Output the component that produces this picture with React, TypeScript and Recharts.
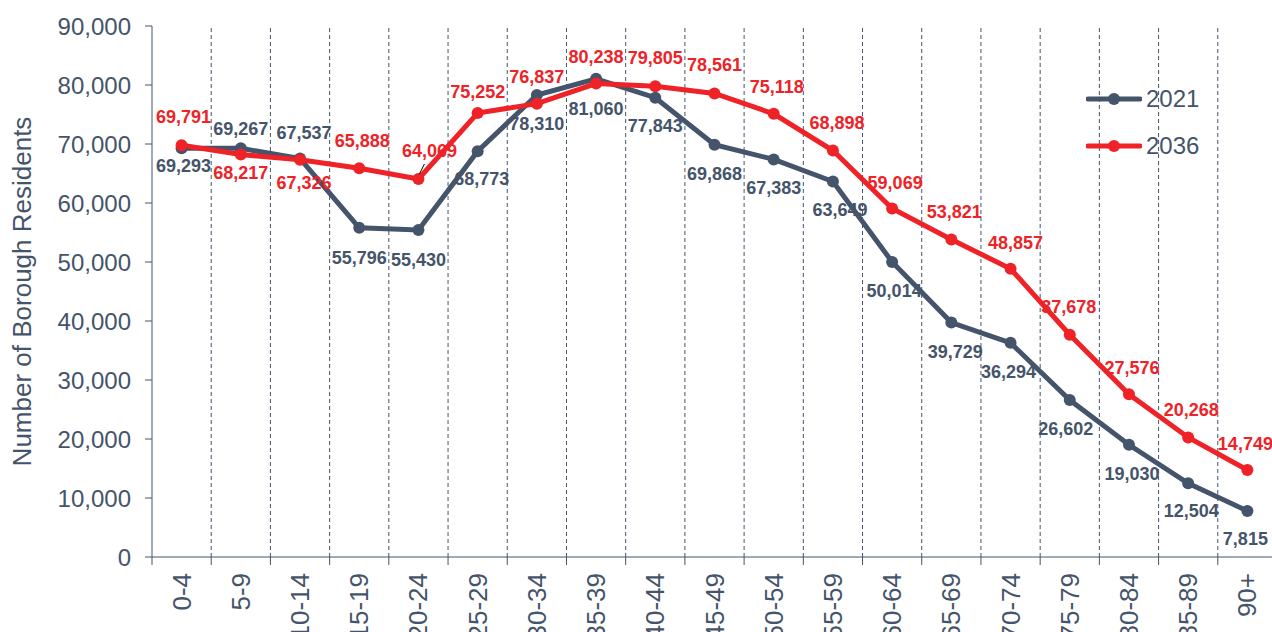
import React from 'react';
import { LineChart, Line, XAxis, YAxis, ReferenceLine, LabelList } from 'recharts';

const ageGroups = [
  '0-4', '5-9', '10-14', '15-19', '20-24', '25-29', '30-34', '35-39', '40-44', '45-49',
  '50-54', '55-59', '60-64', '65-69', '70-74', '75-79', '80-84', '85-89', '90+',
];
const residents2021 = [
  69293, 69267, 67537, 55796, 55430, 68773, 78310, 81060, 77843, 69868,
  67383, 63649, 50014, 39729, 36294, 26602, 19030, 12504, 7815,
];
const residents2036 = [
  69791, 68217, 67326, 65888, 64069, 75252, 76837, 80238, 79805, 78561,
  75118, 68898, 59069, 53821, 48857, 37678, 27576, 20268, 14749,
];
const yTicks = [0, 10000, 20000, 30000, 40000, 50000, 60000, 70000, 80000, 90000];

// label placement (offset of label centre from its point)
const dy2021 = [18, -19, -26, 30, 30, 28, 29, 30, 28, 29, 29, 29, 29, 29, 29, 29, 29, 28, 28];
const dx2021 = [2, 0, 4, 0, 0, 4, 0, 0, 0, 0, 0, 7, 2, 4, -2, -4, 3, 3, -2];
const dy2036 = [-28, 18, 23, -27, -28, -21, -27, -27, -28, -28, -27, -28, -25, -27, -26, -28, -26, -27, -26];
const dx2036 = [2, 0, 4, 3, 11, 0, 0, 0, 0, 0, 3, 4, 3, 3, 5, -1, 3, 3, -2];

const SLATE = '#44546A';
const RED = '#EE2227';
const FONT = "'Liberation Sans', Arial, sans-serif";

const data = ageGroups.map((age, i) => ({
  idx: i,
  age,
  y2021: residents2021[i],
  y2036: residents2036[i],
}));

const centers = ageGroups.map((_, i) => i);
const edges = [-0.5, ...ageGroups.map((_, i) => i + 0.5)];
const innerEdges = edges.slice(1, -1);

const fmt = (v: number) => Number(v).toLocaleString('en-US');

const AgeTick = (props: any) => {
  const { x, y, payload } = props;
  const v = payload.value;
  if (Number.isInteger(v)) {
    return (
      <text
        transform={`translate(${x},${y + 16}) rotate(-90)`}
        textAnchor="end"
        dominantBaseline="central"
        fontSize={26}
        fontFamily={FONT}
        fill={SLATE}
      >
        {ageGroups[v]}
      </text>
    );
  }
  return <line x1={x} x2={x} y1={y} y2={y + 8} stroke={SLATE} strokeWidth={1} />;
};

const makeLabel = (color: string, dys: number[], dxs: number[], leaderAt = -1) => (props: any) => {
  const { x, y, value, index } = props;
  return (
    <g>
      {index === leaderAt && (
        <line x1={x + 1} y1={y - 5} x2={x + 6} y2={y - 15} stroke="#000" strokeWidth={1} />
      )}
      <text
        x={x + dxs[index]}
        y={y + dys[index]}
        fill={color}
        fontSize={18}
        fontWeight="bold"
        fontFamily={FONT}
        textAnchor="middle"
        dominantBaseline="central"
      >
        {fmt(value)}
      </text>
    </g>
  );
};

const legendItems = [
  { name: '2021', color: SLATE },
  { name: '2036', color: RED },
];

const LegendBox = () => (
  <div style={{ position: 'absolute', left: 1086, top: 75, fontFamily: FONT }}>
    {legendItems.map((it) => (
      <div key={it.name} style={{ display: 'flex', alignItems: 'center', height: 47 }}>
        <svg width={56} height={20}>
          <line x1={2} x2={54} y1={10} y2={10} stroke={it.color} strokeWidth={5} strokeLinecap="round" />
          <circle cx={28} cy={10} r={6} fill={it.color} />
        </svg>
        <span style={{ fontSize: 24, color: SLATE, marginLeft: 4 }}>{it.name}</span>
      </div>
    ))}
  </div>
);

export default function App() {
  return (
    <div style={{ position: 'fixed', left: 0, top: 0, width: 1272, height: 632, overflow: 'hidden', background: '#fff' }}>
      <LineChart width={1277} height={640} data={data} margin={{ top: 26, right: 0, bottom: 0, left: 0 }}>
        {innerEdges.map((e) => (
          <ReferenceLine key={e} x={e} stroke={SLATE} strokeWidth={1} strokeDasharray="4 3" />
        ))}
        <XAxis
          dataKey="idx"
          type="number"
          domain={[-0.5, 18.5]}
          ticks={[...edges, ...centers].sort((a, b) => a - b)}
          interval={0}
          tick={<AgeTick />}
          tickLine={false}
          tickSize={0}
          tickMargin={0}
          height={83}
          axisLine={{ stroke: SLATE, strokeWidth: 1 }}
        />
        <YAxis
          type="number"
          domain={[0, 90000]}
          ticks={yTicks}
          interval={0}
          width={152}
          tickFormatter={fmt}
          tick={{ fontSize: 24, fill: SLATE, fontFamily: FONT }}
          tickSize={7}
          tickMargin={14}
          tickLine={{ stroke: SLATE }}
          axisLine={{ stroke: SLATE }}
          label={{
            value: 'Number of Borough Residents',
            angle: -90,
            position: 'insideLeft',
            offset: 22,
            style: { textAnchor: 'middle', fontSize: 26, fill: SLATE, fontFamily: FONT },
          }}
        />
        <Line
          dataKey="y2021"
          name="2021"
          stroke={SLATE}
          strokeWidth={5}
          dot={{ r: 6, fill: SLATE, stroke: SLATE, strokeWidth: 0 }}
          activeDot={false}
          isAnimationActive={false}
        >
          <LabelList dataKey="y2021" content={makeLabel(SLATE, dy2021, dx2021)} />
        </Line>
        <Line
          dataKey="y2036"
          name="2036"
          stroke={RED}
          strokeWidth={5}
          dot={{ r: 6, fill: RED, stroke: RED, strokeWidth: 0 }}
          activeDot={false}
          isAnimationActive={false}
        >
          <LabelList dataKey="y2036" content={makeLabel(RED, dy2036, dx2036, 4)} />
        </Line>
      </LineChart>
      <LegendBox />
    </div>
  );
}
